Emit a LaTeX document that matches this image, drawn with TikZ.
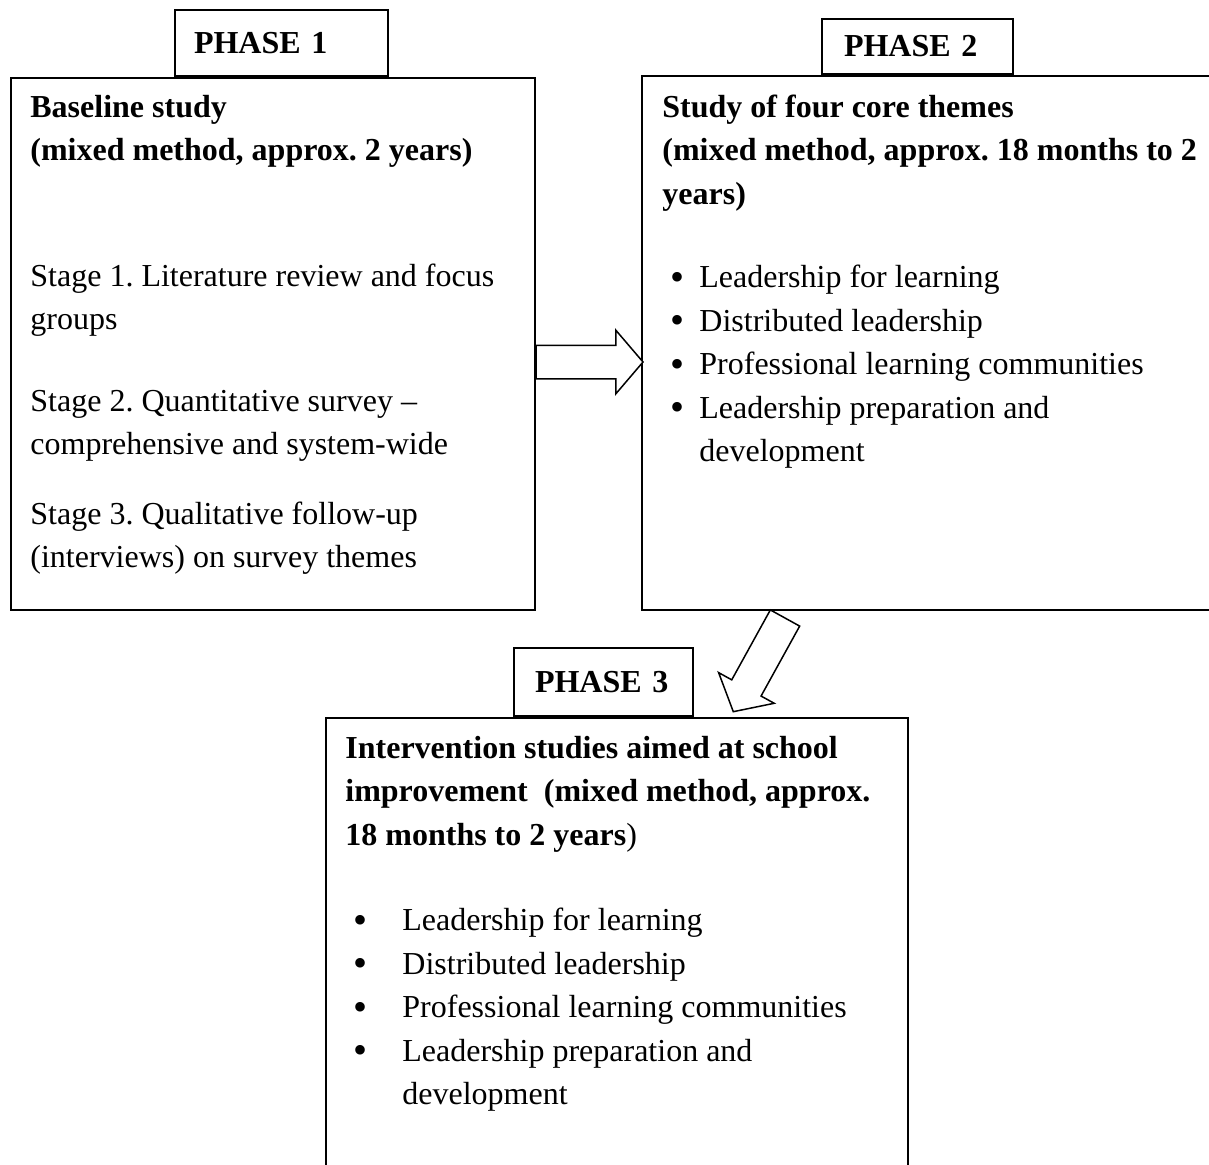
\documentclass[tikz,border=0pt]{standalone}
\usepackage{fontspec}
\setmainfont{Liberation Serif}
\usepackage{graphicx}
\usepackage{tikz}
\usetikzlibrary{calc,shapes.arrows}
\newcommand\bodyfont{\fontsize{16}{21.75}\selectfont\frenchspacing}
\newcommand\bulletbox[1]{\makebox[#1][l]{\hspace{4pt}\raisebox{-1.3pt}{\scalebox{1.25}{\textbullet}}}}
\def\phasetab{\node[draw=black,line width=1pt,anchor=south west,inner ysep=0pt,align=left,font=\bodyfont\bfseries]}
\def\studybox{\node[draw=black,line width=1pt,anchor=north west,inner sep=0pt]}
\def\studytext{\node[anchor=north west,inner sep=0pt,align=left,font=\bodyfont]}
\def\fatarrow{\node[single arrow,draw=black,fill=white,line width=0.75pt,inner xsep=0pt,inner ysep=8pt,outer sep=0pt,minimum width=31pt,minimum height=53.5pt,single arrow head extend=7.5pt,single arrow tip angle=99,anchor=tail]}

\begin{document}
\begin{tikzpicture}[x=0.5pt,y=-0.5pt]
\useasboundingbox (0,0) rectangle (1209,1164);
\clip (0,0) rectangle (1209,1164);

% Phase 1: baseline study
\studybox[minimum width=262pt,minimum height=266pt] (b1) at (10,77) {};
\phasetab[minimum height=33pt,inner xsep=9.5pt,text width=87.5pt] (phase1) at (b1.north west -| 174,0) {PHASE 1};
\studytext (txt1) at ($ (b1.north west) + (20,9.5) $) {\strut\textbf{Baseline study}\\
  \textbf{(mixed method, approx. 2 years)}\\[41pt]
  Stage 1. Literature review and focus\\
  groups\\[19pt]
  Stage 2. Quantitative survey --\\
  comprehensive and system-wide\\[13pt]
  Stage 3. Qualitative follow-up\\
  (interviews) on survey themes};

% Phase 2: core themes, box runs off the right edge
\studybox[minimum width=300pt,minimum height=267pt] (b2) at (641,75) {};
\phasetab[minimum height=27.5pt,inner xsep=11pt,text width=73.5pt] (phase2) at (b2.north west -| 821,0) {PHASE 2};
\studytext (txt2) at ($ (b2.north west) + (21,11.5) $) {\strut\textbf{Study of four core themes}\\
  \textbf{(mixed method, approx. 18 months to 2}\\
  \textbf{years)}\\[20pt]
  \bulletbox{18.5pt}Leadership for learning\\
  \bulletbox{18.5pt}Distributed leadership\\
  \bulletbox{18.5pt}Professional learning communities\\
  \bulletbox{18.5pt}Leadership preparation and\\
  \hspace*{18.5pt}development};

% Phase 3: intervention studies, box runs off the bottom
\studybox[minimum width=291pt,minimum height=260pt] (b3) at (325,717) {};
\phasetab[minimum height=34pt,inner xsep=10.5pt,text width=68.5pt] (phase3) at (b3.north west -| 513,0) {PHASE 3};
\studytext (txt3) at ($ (b3.north west) + (20,10.5) $) {\strut\textbf{Intervention studies aimed at school}\\
  \textbf{improvement\ \ (mixed method, approx.}\\
  \textbf{18 months to 2 years})\\[21pt]
  \bulletbox{28.5pt}Leadership for learning\\
  \bulletbox{28.5pt}Distributed leadership\\
  \bulletbox{28.5pt}Professional learning communities\\
  \bulletbox{28.5pt}Leadership preparation and\\
  \hspace*{28.5pt}development};

% Block arrows between the phases
\fatarrow (arrow12) at ($ (b1.north east) + (0,285) $) {};
\fatarrow[rotate=241.1] (arrow23) at ($ (b2.south west) + (144,7) $) {};
\end{tikzpicture}
\end{document}
